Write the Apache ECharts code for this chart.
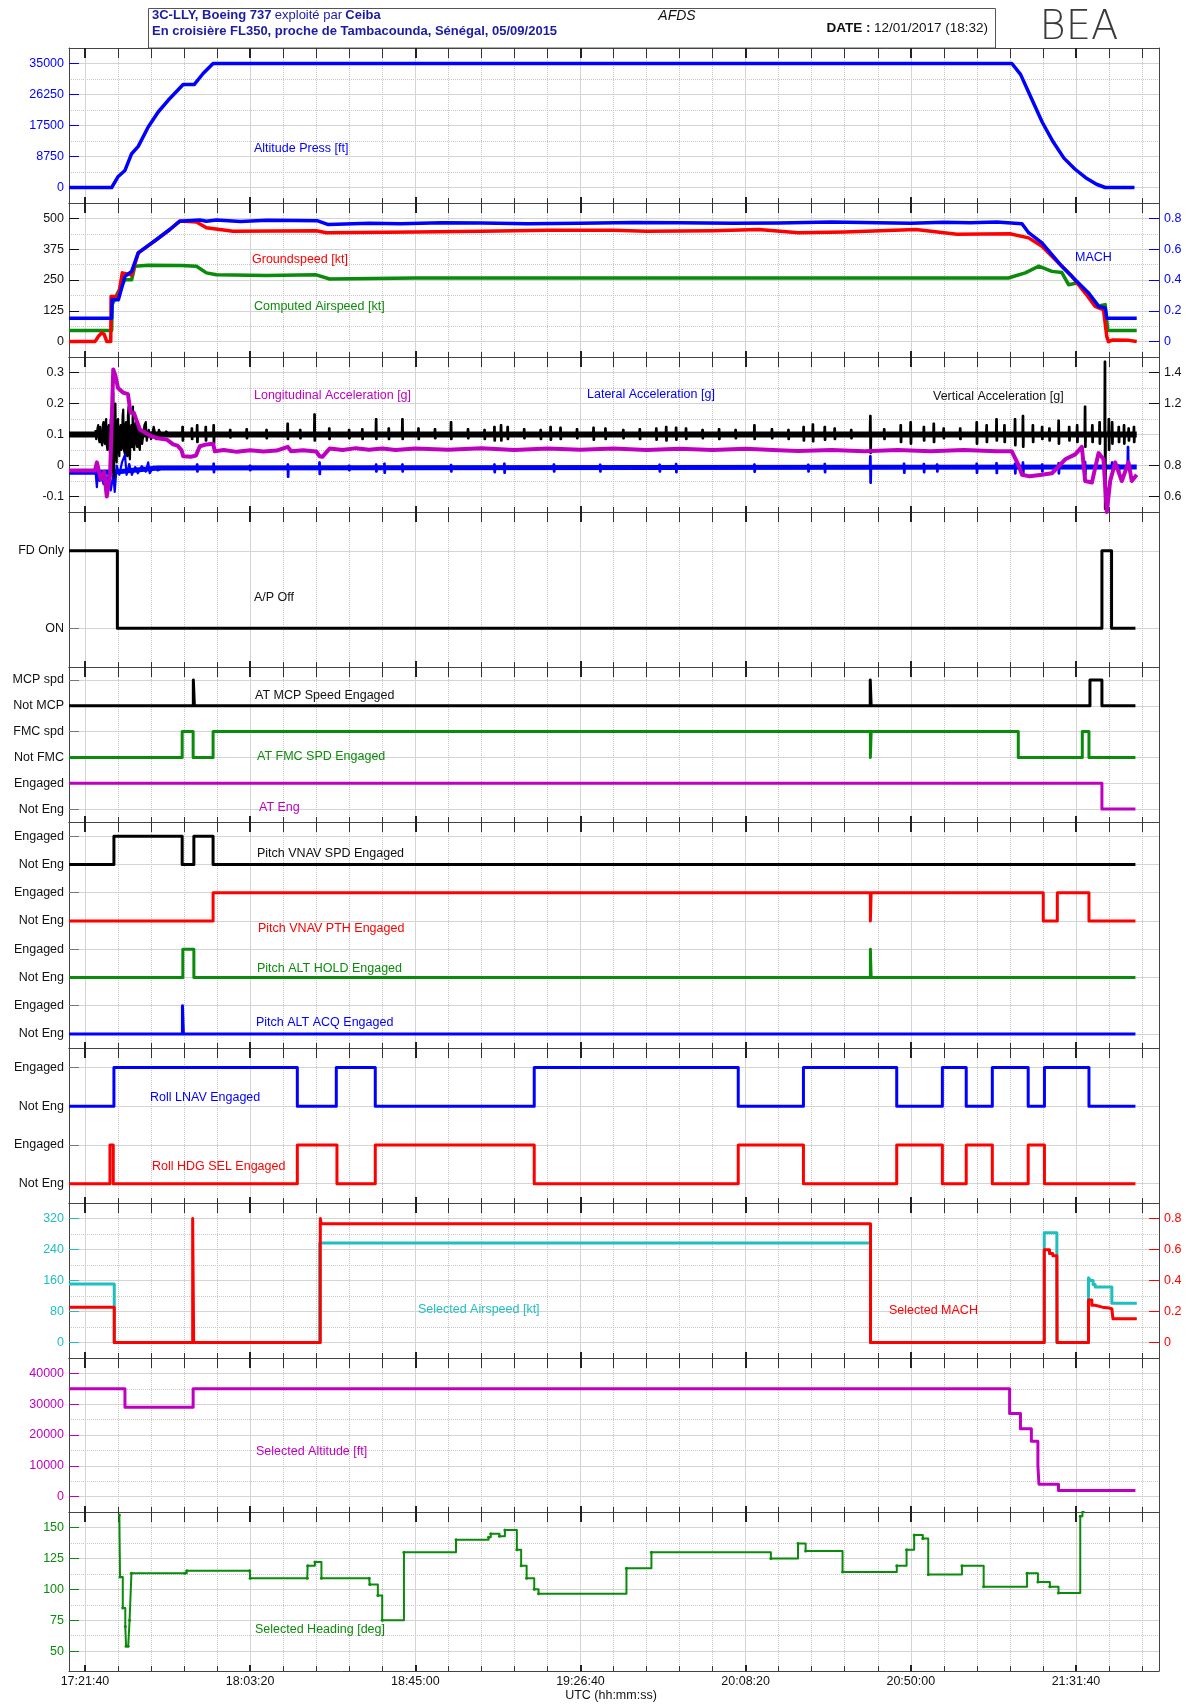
<!DOCTYPE html>
<html><head><meta charset="utf-8">
<script src="https://cdn.jsdelivr.net/npm/echarts@6/dist/echarts.min.js"></script>
<style>html,body{margin:0;padding:0;background:#fff}#c{width:1186px;height:1704px}</style>
</head><body><div id="c"></div><script>
// ---------------- DATA (time = seconds of day UTC) ----------------
const timeMajor = [62500, 65000, 67500, 70000, 72500, 75000, 77500];
const altPress = [[62258,0],[62904,0],[63003,3113],[63105,4811],[63206,9537],[63306,11603],[63457,17065],[63608,21310],[63759,24621],[63986,29064],[64152,29064],[64288,32177],[64439,35000],[76530,35000],[76661,31930],[76825,25175],[76990,18421],[77154,12895],[77318,8289],[77483,5219],[77647,2763],[77811,921],[77943,0],[78386,0]];
const machVal = [[62258,0.152],[62904,0.152],[62910,0.272],[63005,0.272],[63105,0.424],[63206,0.456],[63306,0.576],[63583,0.663],[63784,0.728],[63935,0.782],[64238,0.79],[64338,0.782],[64489,0.79],[64853,0.78],[65256,0.788],[66012,0.785],[66184,0.76],[66800,0.768],[67275,0.765],[67900,0.772],[68500,0.77],[69200,0.766],[70000,0.768],[70800,0.774],[71500,0.772],[72300,0.768],[73000,0.77],[73800,0.776],[74500,0.772],[75000,0.768],[75500,0.775],[75900,0.771],[76300,0.776],[76683,0.765],[76784,0.707],[76985,0.641],[77136,0.565],[77287,0.489],[77489,0.402],[77690,0.316],[77842,0.228],[77942,0.218],[77967,0.152],[78420,0.152]];
const gsKt = [[62258,0],[62651,0],[62700,20],[62750,35],[62790,30],[62830,0],[62890,0],[62895,183],[63005,183],[63065,279],[63206,270],[63306,360],[63583,414],[63784,455],[63935,489],[64188,485],[64338,462],[64741,448],[66000,450],[66154,442],[67500,445],[68500,448],[69500,452],[70500,452],[71000,448],[72000,450],[72700,455],[73300,442],[74000,445],[75076,455],[75700,436],[76500,438],[76783,421],[76985,387],[77237,319],[77439,265],[77640,197],[77791,143],[77917,129],[77967,20],[77992,0],[78050,6],[78300,5],[78420,0]];
const casKt = [[62258,45],[62904,45],[62910,150],[63000,200],[63105,251],[63206,251],[63255,306],[63457,310],[63960,309],[64188,306],[64338,279],[64489,271],[65245,268],[66000,271],[66204,254],[67500,258],[70000,258],[73000,258],[76477,258],[76733,279],[76935,306],[77136,285],[77287,280],[77388,231],[77514,238],[77690,197],[77842,145],[77942,150],[77981,45],[78420,45]];
// vertical acceleration [g] (right axis): mean level, take-off oscillations, bursts [time, high, low]
const accVertMean = [[62258,1.0],[78420,1.0]];
const accVertTakeoff = [[62660,1.03],[62670,0.97],[62680,0.96],[62690,1.04],[62700,1.06],[62710,0.97],[62720,0.95],[62730,1.05],[62740,1.04],[62750,0.95],[62760,0.93],[62770,1.06],[62780,1.08],[62790,0.96],[62800,0.94],[62810,1.07],[62820,1.10],[62830,0.93],[62840,0.90],[62850,1.04],[62860,1.06],[62870,0.92],[62880,0.88],[62890,1.09],[62900,1.12],[62915,0.76],[62928,1.27],[62940,0.72],[62950,1.15],[62960,1.20],[62970,0.85],[62980,0.82],[62990,1.08],[63000,1.10],[63010,0.90],[63020,0.86],[63030,1.04],[63040,1.06],[63050,0.90],[63060,0.92],[63070,1.12],[63079,1.16],[63090,0.90],[63100,0.88],[63110,1.05],[63120,1.08],[63130,0.88],[63140,0.86],[63150,1.12],[63160,1.18],[63170,0.88],[63180,0.84],[63190,1.02],[63200,1.06],[63213,0.92],[63226,1.18],[63235,0.92],[63245,0.90],[63258,1.06],[63270,1.08],[63280,0.94],[63290,0.92],[63300,1.05],[63310,1.06],[63320,0.92],[63330,0.90],[63340,1.03],[63350,1.04],[63365,0.94],[63380,0.93],[63400,1.06],[63420,1.08],[63435,0.96],[63450,0.95],[63465,1.03],[63483,1.04],[63500,0.97],[63520,0.97],[63540,1.05],[63560,1.06],[63580,0.97],[63600,0.96],[63620,1.03],[63640,1.03],[63670,0.98],[63700,0.97],[63730,1.02],[63760,1.02],[63790,0.99],[63820,0.99],[63860,1.01],[63900,1.0]];
const accVertBursts = [[63980,1.05,0.96],[64120,1.04,0.97],[64200,1.06,0.95],[64330,1.05,0.96],[64450,1.06,0.94],[64700,1.03,0.98],[64950,1.035,0.975],[65250,1.03,0.975],[65570,1.07,0.97],[65760,1.03,0.975],[65977,1.13,0.96],[66200,1.04,0.97],[66500,1.03,0.975],[66700,1.035,0.97],[66909,1.10,0.97],[67100,1.04,0.97],[67307,1.10,0.97],[67550,1.04,0.97],[67800,1.035,0.975],[68043,1.08,0.97],[68300,1.035,0.975],[68550,1.03,0.97],[68700,1.05,0.96],[68800,1.06,0.96],[68900,1.05,0.97],[69150,1.035,0.975],[69400,1.03,0.97],[69550,1.05,0.965],[69700,1.045,0.97],[69950,1.035,0.975],[70200,1.045,0.965],[70380,1.04,0.97],[70650,1.03,0.975],[70900,1.035,0.97],[71150,1.04,0.965],[71300,1.05,0.96],[71450,1.045,0.965],[71600,1.04,0.97],[71850,1.03,0.975],[72100,1.035,0.97],[72350,1.03,0.975],[72635,1.06,0.97],[72900,1.035,0.975],[73150,1.03,0.97],[73380,1.05,0.96],[73520,1.065,0.955],[73700,1.05,0.965],[73850,1.04,0.97],[74100,1.03,0.975],[74390,1.12,0.88],[74600,1.035,0.97],[74850,1.06,0.95],[75000,1.08,0.94],[75200,1.05,0.96],[75350,1.07,0.95],[75500,1.04,0.975],[75750,1.04,0.97],[76000,1.08,0.94],[76150,1.06,0.95],[76300,1.10,0.96],[76420,1.06,0.95],[76580,1.10,0.93],[76700,1.12,0.92],[76850,1.06,0.95],[76990,1.05,0.97],[77100,1.04,0.96],[77240,1.09,0.94],[77400,1.05,0.96],[77520,1.06,0.95],[77640,1.18,0.92],[77750,1.06,0.95],[77860,1.08,0.94],[77941,1.47,0.52],[78000,1.10,0.90],[78050,1.08,0.94],[78150,1.05,0.95],[78230,1.06,0.94],[78300,1.04,0.96],[78380,1.05,0.95]];
// lateral acceleration [g] (left axis)
const accLatMean = [[62258,-0.022],[62650,-0.022],[63000,-0.02],[63600,-0.008],[78420,-0.005]];
const accLatTakeoff = [[62660,-0.02],[62680,-0.07],[62700,-0.01],[62720,-0.05],[62740,-0.02],[62780,-0.06],[62810,-0.03],[62830,-0.09],[62860,-0.02],[62890,-0.08],[62928,-0.03],[62950,-0.085],[62980,0.0],[63020,-0.03],[63060,0.01],[63105,0.035],[63130,-0.03],[63170,0.005],[63210,-0.03],[63260,-0.005],[63300,-0.025],[63360,-0.002],[63420,-0.02],[63457,0.01],[63480,-0.025],[63540,-0.004],[63600,-0.016],[63700,-0.006]];
const accLatBursts = [[64200,0.004,-0.02],[64450,0.006,-0.022],[65000,0.0,-0.016],[65573,0.004,-0.037],[66052,0.01,-0.028],[66500,0.0,-0.016],[66909,0.004,-0.02],[67035,0.006,-0.024],[67307,0.004,-0.02],[68043,0.002,-0.02],[68700,0.004,-0.022],[68850,0.006,-0.024],[69600,0.004,-0.02],[70300,0.003,-0.02],[71200,0.003,-0.02],[71450,0.005,-0.022],[72635,0.004,-0.021],[73450,0.003,-0.02],[73700,0.005,-0.022],[74390,0.03,-0.056],[74900,0.006,-0.024],[75200,0.005,-0.022],[75400,0.004,-0.02],[76000,0.006,-0.024],[76300,0.008,-0.025],[76580,0.006,-0.026],[76700,0.01,-0.028],[76990,0.004,-0.02],[77240,0.008,-0.026],[77640,0.012,-0.03],[77941,0.0,-0.04],[78050,0.01,-0.02],[78150,0.0,-0.02],[78290,0.06,-0.01]];
const accLong = [[62258,-0.016],[62651,-0.016],[62680,0.01],[62740,-0.045],[62790,-0.02],[62830,-0.10],[62880,-0.03],[62928,0.31],[62960,0.29],[63000,0.25],[63079,0.235],[63150,0.23],[63190,0.17],[63240,0.17],[63290,0.14],[63331,0.116],[63420,0.105],[63500,0.095],[63600,0.088],[63735,0.084],[63835,0.068],[63900,0.064],[63960,0.05],[63986,0.03],[64100,0.028],[64180,0.032],[64238,0.062],[64340,0.068],[64440,0.07],[64465,0.046],[64600,0.05],[64800,0.044],[65000,0.049],[65200,0.045],[65400,0.048],[65570,0.06],[65620,0.046],[65800,0.049],[66000,0.045],[66052,0.03],[66093,0.028],[66204,0.055],[66400,0.05],[66600,0.056],[66800,0.051],[67000,0.055],[67200,0.05],[67500,0.055],[68000,0.051],[68500,0.056],[69000,0.05],[69500,0.055],[70000,0.051],[70500,0.055],[71000,0.05],[71500,0.054],[72000,0.05],[72500,0.054],[73000,0.049],[73300,0.047],[73800,0.05],[74300,0.046],[74800,0.05],[75300,0.046],[75800,0.05],[76300,0.046],[76527,0.046],[76633,0.0],[76683,-0.03],[76800,-0.035],[76985,-0.03],[77136,-0.025],[77250,0.0],[77338,0.02],[77489,0.036],[77589,0.06],[77640,-0.05],[77741,-0.055],[77842,0.04],[77917,0.02],[77967,-0.15],[78018,-0.05],[78094,0.01],[78194,-0.05],[78295,0.01],[78345,-0.05],[78420,-0.03]];
// discrete states: [time, level]
const apState = [[62258,1],[62990,0],[77893,1],[78039,0],[78400,0]];
const atMcp = [[62258,4],[64140,5],[64156,4],[74386,5],[74400,4],[77712,5],[77893,4],[78400,4]];
const atFmc = [[62258,2],[63971,3],[64137,2],[64439,3],[74388,2],[74400,3],[76627,2],[77596,3],[77697,2],[78400,2]];
const atEng = [[62258,1],[77893,0],[78400,0]];
const vnavSpd = [[62258,6],[62938,7],[63971,6],[64148,7],[64439,6],[78400,6]];
const vnavPth = [[62258,4],[64439,5],[74388,4],[74400,5],[77005,4],[77218,5],[77697,4],[78400,4]];
const altHold = [[62258,2],[63981,3],[64148,2],[74388,3],[74400,2],[78400,2]];
const altAcq = [[62258,0],[63975,1],[63990,0],[78400,0]];
const lnav = [[62258,2],[62938,3],[65714,2],[66304,3],[66894,2],[69300,3],[72388,2],[73375,3],[74787,2],[75478,3],[75839,2],[76234,3],[76777,2],[77023,3],[77697,2],[78400,2]];
const hdgSel = [[62258,0],[62878,1],[62928,0],[65714,1],[66314,0],[66894,1],[69300,0],[72388,1],[73375,0],[74787,1],[75478,0],[75839,1],[76234,0],[76777,1],[77023,0],[78400,0]];
const selSpd = [[62258,151],[62943,0],[66052,257],[74390,0],[77020,283],[77211,0],[77690,167],[77720,160],[77760,150],[77791,143],[78043,101],[78421,101]];
const selMach = [[62258,0.228],[62943,0],[64130,0.8],[64145,0],[66062,0.8],[66075,0.766],[74390,0],[77020,0.598],[77100,0.575],[77150,0.56],[77211,0.534],[77215,0],[77690,0.275],[77740,0.24],[77791,0.228],[77900,0.222],[78000,0.218],[78043,0.215],[78060,0.153],[78421,0.153]];
const selAlt = [[62258,35000],[63105,29000],[64137,35000],[76496,27000],[76660,22000],[76825,18000],[76924,10000],[76940,4000],[77236,2000],[78400,2000]];
const selHdg = [[63020,160],[63030,110],[63072,85],[63110,70],[63122,54],[63154,54],[63175,75],[63203,113],[64009,113],[64040,115],[64994,115],[65000,109],[65865,109],[65870,119],[65980,122],[66079,109],[66802,109],[66810,104],[66933,95],[66999,75],[67328,130],[68116,140],[68609,142],[68642,145],[68774,143],[68856,148],[69037,132],[69102,119],[69185,109],[69300,100],[69365,96.5],[70696,117],[71074,130],[72882,125],[73293,137],[73408,131],[73967,114],[74788,119],[74936,132],[75051,144],[75182,141],[75264,112],[75774,119],[76103,102],[76760,113],[76924,106],[77105,102],[77236,97],[77565,159],[77598,163],[77631,163]];

// tick labels / level names
const apLevels = ['ON','FD Only'];
const atLevels = ['Not Eng','Engaged','Not FMC','FMC spd','Not MCP','MCP spd'];
const pitchLevels = ['Not Eng','Engaged','Not Eng','Engaged','Not Eng','Engaged','Not Eng','Engaged'];
const rollLevels = ['Not Eng','Engaged','Not Eng','Engaged'];

// ---------------- LAYOUT / STYLE ----------------
const BLUE='#0000ff', RED='#ff0000', GREEN='#0b8b0b', MAG='#c000c0', CYAN='#1fbfbf', BLACK='#000000';
const FONT='"Liberation Sans", Arial, sans-serif';
const X_MIN=62258, X_MAX=78757;
const EDGES=[48,203,357,512,667,822,1048,1203,1358,1512,1671];
const timeMinor=[]; for(let t=62500;t<=78500;t+=500) timeMinor.push(t);
function hms(v){const h=Math.floor(v/3600),m=Math.floor(v%3600/60),s=Math.round(v%60);return h+':'+String(m).padStart(2,'0')+':'+String(s).padStart(2,'0');}
function idx(n){const a=[];for(let i=0;i<n;i++)a.push(i);return a;}
// take-off samples followed by narrow bursts (each: up to high, down to low, twice), separated by gaps
function spikes(takeoff,bursts,level){
  const pts=takeoff.slice();
  pts.push([takeoff[takeoff.length-1][0]+1,'-']);
  bursts.forEach(b=>{pts.push([b[0]-10,level],[b[0]-6,b[1]],[b[0]-2,b[2]],[b[0]+2,b[1]],[b[0]+6,b[2]],[b[0]+10,level],[b[0]+11,'-']);});
  return pts;
}

const panels=[
 {min:-4375,max:39375,ticks:[0,8750,17500,26250,35000],color:BLUE,minor:[4375,13125,21875,30625]},
 {min:-62.5,max:562.5,ticks:[0,125,250,375,500],color:'#111',minor:[62.5,187.5,312.5,437.5],right:{min:-0.1,max:0.9,ticks:[0,0.2,0.4,0.6,0.8],color:BLUE}},
 {min:-0.15,max:0.35,ticks:[-0.1,0,0.1,0.2,0.3],color:'#111',minor:[-0.05,0.05,0.15,0.25],right:{min:0.5,max:1.5,ticks:[0.6,0.8,1.2,1.4],color:'#111'}},
 {min:-0.5,max:1.5,ticks:[0,1],names:apLevels,color:'#111',tickColor:'#777'},
 {min:-0.5,max:5.5,ticks:idx(6),names:atLevels,color:'#111',tickColor:'#777'},
 {min:-0.5,max:7.5,ticks:idx(8),names:pitchLevels,color:'#111',tickColor:'#777'},
 {min:-0.5,max:3.5,ticks:idx(4),names:rollLevels,color:'#111',tickColor:'#777'},
 {min:-40,max:360,ticks:[0,80,160,240,320],color:CYAN,minor:[40,120,200,280],right:{min:-0.1,max:0.9,ticks:[0,0.2,0.4,0.6,0.8],color:RED}},
 {min:-5000,max:45000,ticks:[0,10000,20000,30000,40000],color:MAG,minor:[5000,15000,25000,35000]},
 {min:34,max:162.5,ticks:[50,75,100,125,150],color:GREEN,minor:[62.5,87.5,112.5,137.5]}
];

const grids=[],xAxes=[],yAxes=[];
panels.forEach((p,i)=>{
  const top=EDGES[i],h=EDGES[i+1]-EDGES[i],last=i===panels.length-1;
  grids.push({left:69,right:27,top:top,height:h});
  const base={type:'value',gridIndex:i,min:X_MIN,max:X_MAX,axisLabel:{show:false},splitLine:{show:false}};
  xAxes.push(Object.assign({},base,{position:'bottom',axisLine:{show:true,onZero:false,lineStyle:{color:'#444',width:1}},
    axisTick:{show:true,inside:true,length:5,customValues:timeMinor,lineStyle:{color:'#333',width:1}},
    splitLine:{show:true,lineStyle:{color:'#c8c8c8',type:'dotted',width:1}}}));
  xAxes.push(Object.assign({},base,{position:'bottom',axisLine:{show:false,onZero:false},
    axisTick:{show:true,inside:true,length:6,customValues:timeMajor,lineStyle:{color:'#222',width:2}},
    axisLabel:last?{show:true,customValues:timeMajor,formatter:hms,margin:4,color:'#111',fontSize:12.5,fontFamily:FONT}:{show:false},
    splitLine:{show:true,lineStyle:{color:'#d4d4d4',width:1}}}));
  xAxes.push(Object.assign({},base,{position:'top',axisLine:{show:true,onZero:false,lineStyle:{color:'#444',width:1}},
    axisTick:{show:true,inside:true,length:10,customValues:timeMinor,lineStyle:{color:'#333',width:1}}}));
  xAxes.push(Object.assign({},base,{position:'top',axisLine:{show:false,onZero:false},
    axisTick:{show:true,inside:true,length:10,customValues:timeMajor,lineStyle:{color:'#222',width:2}}}));
  yAxes.push({type:'value',gridIndex:i,min:p.min,max:p.max,position:'left',
    axisLine:{show:true,onZero:false,lineStyle:{color:'#444'}},
    axisTick:{show:true,inside:true,length:10,customValues:p.ticks,lineStyle:{color:p.tickColor||p.color}},
    axisLabel:{show:true,customValues:p.ticks,margin:5,color:p.color,fontSize:12.5,fontFamily:FONT,
      formatter:p.names?(v=>p.names[Math.round(v)]):(v=>String(v))},
    splitLine:{show:true,lineStyle:{color:'#d4d4d4',width:1}}});
  yAxes.push({type:'value',gridIndex:i,min:p.min,max:p.max,position:'left',
    axisLine:{show:false},axisTick:{show:false,customValues:p.minor||[p.min]},axisLabel:{show:false},
    splitLine:{show:!!p.minor,lineStyle:{color:'#c8c8c8',type:'dotted',width:1}}});
  const r=p.right;
  yAxes.push({type:'value',gridIndex:i,min:r?r.min:p.min,max:r?r.max:p.max,position:'right',
    axisLine:{show:true,onZero:false,lineStyle:{color:'#444'}},
    axisTick:{show:!!r,inside:true,length:10,customValues:r?r.ticks:[p.min],lineStyle:{color:r?r.color:'#444'}},
    axisLabel:{show:!!r,customValues:r?r.ticks:[p.min],margin:5,color:r?r.color:'#111',fontSize:12.5,fontFamily:FONT,formatter:v=>String(v)},
    splitLine:{show:false}});
});

function S(panel,side,data,color,width,step,z,extra){
  return Object.assign({type:'line',xAxisIndex:panel*4,yAxisIndex:panel*3+(side==='right'?2:0),data:data,
    step:step||false,showSymbol:false,symbol:'none',clip:true,silent:true,z:z||2,connectNulls:false,
    lineStyle:{color:color,width:width,join:'round',cap:'butt'},itemStyle:{color:color}},extra||{});
}

const series=[
 S(0,'left',altPress,BLUE,3.5),
 S(1,'left',casKt,GREEN,3.5,false,2),
 S(1,'left',gsKt,RED,3.5,false,3),
 S(1,'right',machVal,BLUE,3.5,false,4),
 S(2,'left',accLatMean,BLUE,5,false,2),
 S(2,'left',spikes(accLatTakeoff,accLatBursts,-0.007),BLUE,2.2,false,2),
 S(2,'right',accVertMean,BLACK,6,false,3),
 S(2,'right',spikes(accVertTakeoff,accVertBursts,1.0),BLACK,2.2,false,3),
 S(2,'left',accLong,MAG,4,false,4),
 S(3,'left',apState,BLACK,3,'end'),
 S(4,'left',atMcp,BLACK,3,'end'),
 S(4,'left',atFmc,GREEN,3,'end'),
 S(4,'left',atEng,MAG,3,'end'),
 S(5,'left',vnavSpd,BLACK,3,'end'),
 S(5,'left',vnavPth,RED,3,'end'),
 S(5,'left',altHold,GREEN,3,'end'),
 S(5,'left',altAcq,BLUE,3,'end'),
 S(6,'left',lnav,BLUE,3,'end'),
 S(6,'left',hdgSel,RED,3,'end'),
 S(7,'left',selSpd,CYAN,3,'end',2),
 S(7,'right',selMach,RED,3,'end',3),
 S(8,'left',selAlt,MAG,3,'end'),
 S(9,'left',selHdg,GREEN,2,'end',2,{showSymbol:true,symbol:'circle',symbolSize:3})
];

function T(x,y,text,color,extra){
  return {type:'text',x:x,y:y,silent:true,z:100,style:Object.assign({text:text,fill:color,fontSize:12.5,fontFamily:FONT,align:'left',verticalAlign:'middle'},extra||{})};
}
const graphic=[
 {type:'rect',shape:{x:148.5,y:8.5,width:847,height:39.5},style:{fill:null,stroke:'#555',lineWidth:1},silent:true},
 {type:'text',x:152,y:15,silent:true,style:{text:'{b|3C-LLY, Boeing 737} {n|exploité par} {b|Ceiba}',fill:'#1b1ba6',verticalAlign:'middle',align:'left',
   rich:{b:{fontWeight:'bold',fontSize:13,fontFamily:FONT,fill:'#1b1ba6'},n:{fontSize:13,fontFamily:FONT,fill:'#1b1ba6'}}}},
 {type:'text',x:152,y:31,silent:true,style:{text:'En croisière FL350, proche de Tambacounda, Sénégal, 05/09/2015',fill:'#1b1ba6',fontWeight:'bold',fontSize:13,fontFamily:FONT,verticalAlign:'middle',align:'left'}},
 {type:'text',x:677,y:16,silent:true,style:{text:'AFDS',fill:'#111',fontStyle:'italic',fontSize:14,fontFamily:FONT,align:'center',verticalAlign:'middle'}},
 {type:'text',x:988,y:28,silent:true,style:{text:'{d|DATE :} {v|12/01/2017 (18:32)}',align:'right',verticalAlign:'middle',
   rich:{d:{fontWeight:'bold',fontSize:13.5,fontFamily:FONT,fill:'#111'},v:{fontSize:13.5,fontFamily:FONT,fill:'#111'}}}},
 {type:'text',x:1079,y:29,silent:true,style:{text:'BEA',fill:'#3a3a3a',fontSize:40,fontWeight:200,fontFamily:'"DejaVu Sans", "Liberation Sans", sans-serif',align:'center',verticalAlign:'middle'}},
 T(254,149,'Altitude Press [ft]',BLUE),
 T(252,260,'Groundspeed [kt]',RED),
 T(254,307,'Computed Airspeed [kt]',GREEN),
 T(1075,258,'MACH',BLUE),
 T(254,396,'Longitudinal Acceleration [g]',MAG),
 T(587,395,'Lateral Acceleration [g]',BLUE),
 T(933,397,'Vertical Acceleration [g]','#111'),
 T(254,598,'A/P Off','#111'),
 T(255,696,'AT MCP Speed Engaged','#111'),
 T(257,757,'AT FMC SPD Engaged',GREEN),
 T(259,808,'AT Eng',MAG),
 T(257,854,'Pitch VNAV SPD Engaged','#111'),
 T(258,929,'Pitch VNAV PTH Engaged',RED),
 T(257,969,'Pitch ALT HOLD Engaged',GREEN),
 T(256,1023,'Pitch ALT ACQ Engaged',BLUE),
 T(150,1098,'Roll LNAV Engaged',BLUE),
 T(152,1167,'Roll HDG SEL Engaged',RED),
 T(418,1310,'Selected Airspeed [kt]',CYAN),
 T(889,1311,'Selected MACH',RED),
 T(256,1452,'Selected Altitude [ft]',MAG),
 T(255,1630,'Selected Heading [deg]',GREEN),
 T(611,1696,'UTC (hh:mm:ss)','#111',{align:'center'})
];

const chart=echarts.init(document.getElementById('c'),null,{renderer:'canvas'});
chart.setOption({animation:false,backgroundColor:'#fff',textStyle:{fontFamily:FONT},
  grid:grids,xAxis:xAxes,yAxis:yAxes,series:series,graphic:graphic});
</script></body></html>
